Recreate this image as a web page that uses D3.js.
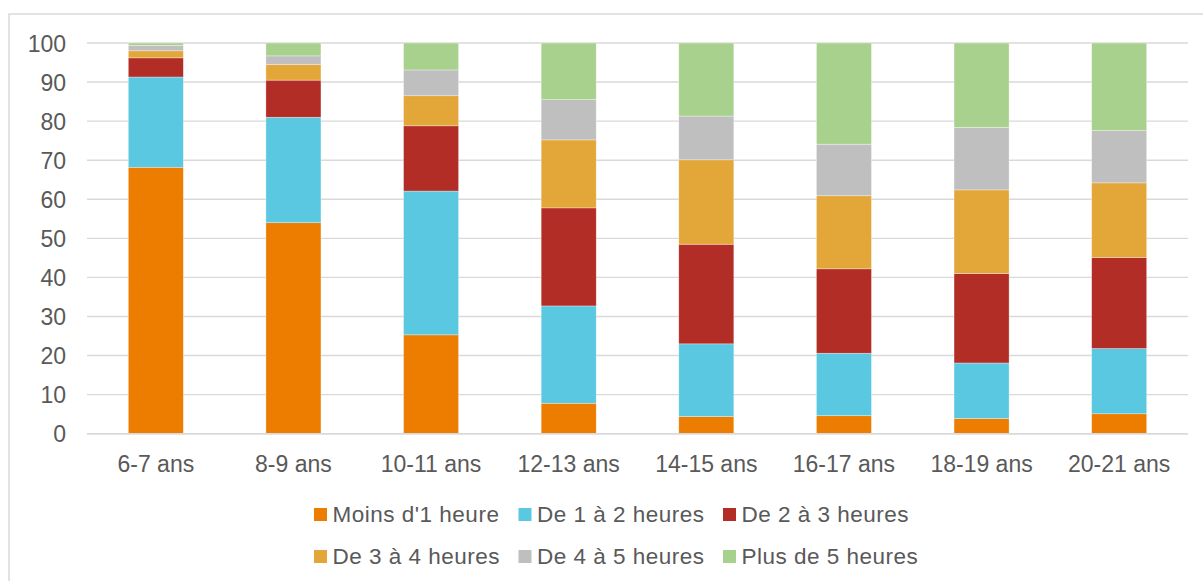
<!DOCTYPE html>
<html>
<head>
<meta charset="utf-8">
<script src="https://cdn.jsdelivr.net/npm/d3@7"></script>
<style>
  html, body { margin: 0; padding: 0; background: #fff; }
  svg { display: block; }
  text { font-family: "Liberation Sans", Arial, sans-serif; fill: #595959; }
</style>
</head>
<body>
<svg id="chart" width="1203" height="581"></svg>
<script>
// Age groups
const categories = ["6-7 ans", "8-9 ans", "10-11 ans", "12-13 ans", "14-15 ans", "16-17 ans", "18-19 ans", "20-21 ans"];

// Share (%) of each daily duration band, per age group
const moinsUneHeure   = [68.2, 54.0, 25.3,  7.8,  4.4,  4.6,  3.9,  5.1];
const deUnADeux       = [23.1, 27.0, 36.8, 24.9, 18.6, 16.0, 14.2, 16.7];
const deDeuxATrois    = [ 4.9,  9.5, 16.7, 25.1, 25.5, 21.6, 22.9, 23.3];
const deTroisAQuatre  = [ 1.8,  4.0,  7.7, 17.4, 21.6, 18.7, 21.4, 19.1];
const deQuatreACinq   = [ 1.4,  2.2,  6.6, 10.3, 11.2, 13.2, 16.0, 13.4];
const plusDeCinq      = [ 0.6,  3.3,  6.9, 14.5, 18.7, 25.9, 21.6, 22.4];

const seriesNames = ["Moins d'1 heure", "De 1 à 2 heures", "De 2 à 3 heures",
                     "De 3 à 4 heures", "De 4 à 5 heures", "Plus de 5 heures"];
const seriesValues = [moinsUneHeure, deUnADeux, deDeuxATrois, deTroisAQuatre, deQuatreACinq, plusDeCinq];
const yTicks = [0, 10, 20, 30, 40, 50, 60, 70, 80, 90, 100];

const colors = ["#ED7D01", "#5BC8E1", "#B22D25", "#E3A739", "#BFBFBF", "#A9D18E"];

// Rows for d3.stack
const rows = categories.map((c, i) => {
  const r = { cat: c };
  seriesNames.forEach((s, j) => { r[s] = seriesValues[j][i]; });
  return r;
});
const stacked = d3.stack().keys(seriesNames)(rows);

const svg = d3.select("#chart");

// Outer chart frame (continues past the right and bottom edges)
svg.append("path")
  .attr("d", "M9,581 V14 H1203")
  .attr("fill", "none")
  .attr("stroke", "#d9d9d9")
  .attr("stroke-width", 1.5);

const x = d3.scaleBand()
  .domain(categories)
  .range([87, 1188])
  .paddingInner(0.6)
  .paddingOuter(0.3);

const y = d3.scaleLinear()
  .domain([0, 100])
  .range([433.7, 43]);

// Horizontal gridlines
svg.append("g")
  .selectAll("line")
  .data(yTicks)
  .join("line")
  .attr("x1", 87)
  .attr("x2", 1188)
  .attr("y1", d => y(d))
  .attr("y2", d => y(d))
  .attr("stroke", "#d9d9d9")
  .attr("stroke-width", 1.4);

// Y axis labels
const yAxis = d3.axisLeft(y).tickValues(yTicks).tickSize(0).tickPadding(0);
svg.append("g")
  .attr("transform", "translate(66,0)")
  .call(yAxis)
  .call(g => g.select(".domain").remove())
  .call(g => g.selectAll("text")
    .attr("fill", "#595959")
    .style("font-size", "23px")
    .style("font-family", "'Liberation Sans', Arial, sans-serif")
    .attr("dy", "0.35em"));

// Stacked bars
svg.append("g")
  .selectAll("g")
  .data(stacked)
  .join("g")
  .attr("fill", (d, i) => colors[i])
  .selectAll("rect")
  .data(d => d)
  .join("rect")
  .attr("x", d => x(d.data.cat))
  .attr("width", x.bandwidth())
  .attr("y", d => y(d[1]))
  .attr("height", d => y(d[0]) - y(d[1]))
  .attr("stroke", "#ffffff")
  .attr("stroke-opacity", 0.55)
  .attr("stroke-width", 0.6);

// Bottom axis line
svg.append("line")
  .attr("x1", 87).attr("x2", 1188)
  .attr("y1", y(0)).attr("y2", y(0))
  .attr("stroke", "#d9d9d9")
  .attr("stroke-width", 1.4);

// X axis labels
const xAxis = d3.axisBottom(x).tickSize(0).tickPadding(0);
svg.append("g")
  .attr("transform", "translate(0,455)")
  .call(xAxis)
  .call(g => g.select(".domain").remove())
  .call(g => g.selectAll("text")
    .attr("fill", "#595959")
    .attr("dy", "0.72em")
    .style("font-size", "23px")
    .style("font-family", "'Liberation Sans', Arial, sans-serif"));

// Legend: two rows of three entries
const legend = svg.append("g");
const legendItems = legend.selectAll("g")
  .data(seriesNames)
  .join("g")
  .attr("transform", (d, i) => `translate(${314 + (i % 3) * 204.5},${i < 3 ? 508 : 550})`);

legendItems.append("rect")
  .attr("width", 13)
  .attr("height", 13)
  .attr("fill", (d, i) => colors[i]);

legendItems.append("text")
  .attr("x", 18.5)
  .attr("y", 13.8)
  .style("font-size", "22.5px")
  .style("letter-spacing", "0.5px")
  .text(d => d);
</script>
</body>
</html>
